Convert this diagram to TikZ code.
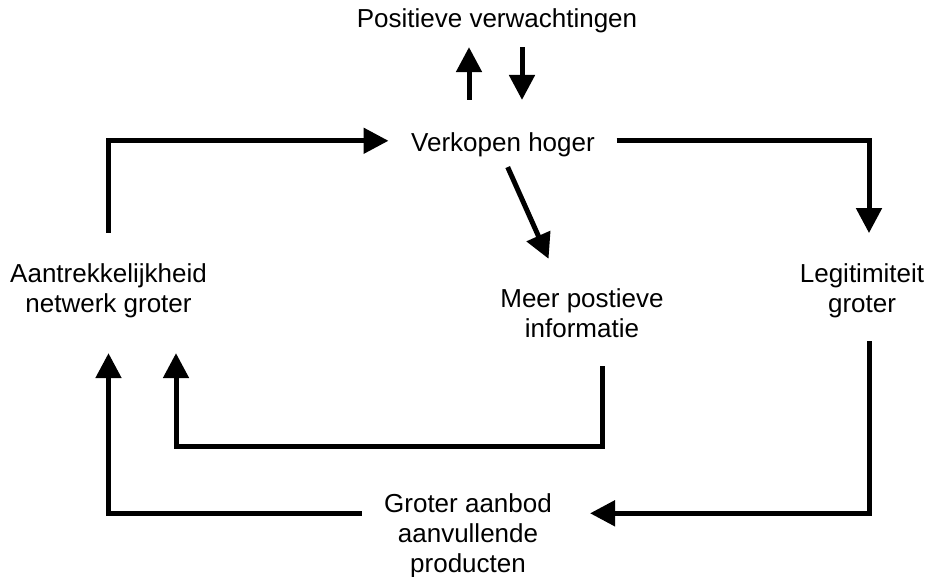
\documentclass[tikz,border=0pt]{standalone}
\usepackage{fontspec}
\setmainfont{Liberation Sans}
\usepackage{tikz}
\usetikzlibrary{arrows.meta, positioning, calc}
\tikzset{
  lbl/.style={inner sep=0pt, align=center, text=black,
    font=\fontsize{26}{30}\selectfont},
  arr/.style={-{Triangle[length=25pt, width=25pt]}, line width=5pt, color=black},
}

\begin{document}
\begin{tikzpicture}[x=1pt, y=-1pt]
  \useasboundingbox (0,0) rectangle (932,576);

  \node[lbl, anchor=base] (pos) at (497,27) {Positieve verwachtingen};
  \node[lbl, anchor=base] (verkopen) at (503,151) {Verkopen hoger};
  \node[lbl] (aantrek) at (108.5,290.3) {Aantrekkelijkheid\\netwerk groter};
  \node[lbl] (meer) at (582,313.7) {Meer postieve\\informatie};
  \node[lbl] (legit) at (862,290.4) {Legitimiteit\\groter};
  \node[lbl] (groter) at (468,535.3) {Groter aanbod\\aanvullende\\producten};

  \draw[arr, shorten <=32pt, shorten >=14.5pt]
    ([xshift=-34pt]verkopen.north) -- ([xshift=-34pt]verkopen.north |- pos.south);
  \draw[arr, shorten <=14.5pt, shorten >=32pt]
    ([xshift=19pt]verkopen.north |- pos.south) -- ([xshift=19pt]verkopen.north);
  \draw[arr, shorten <=30pt, shorten >=22.5pt]
    (aantrek.north) |- ([yshift=3.5pt]verkopen.west);
  \draw[arr, shorten <=21.5pt, shorten >=30pt]
    ([yshift=3.5pt]verkopen.east) -| ([xshift=7pt]legit.north);
  \draw[arr, shorten <=11.5pt, shorten >=33pt]
    (verkopen.south) -- ([xshift=-20pt]meer.north);
  \draw[arr, shorten <=28pt, shorten >=35.5pt]
    ([xshift=20pt]meer.south) -- ++(0,108) -| ([xshift=67.5pt]aantrek.south);
  \draw[arr, shorten <=23.5pt, shorten >=38pt]
    ([xshift=7pt]legit.south) |- ([yshift=22pt]groter.east);
  \draw[arr, shorten <=22pt, shorten >=35.5pt]
    ([yshift=22pt]groter.west) -| (aantrek.south);
\end{tikzpicture}
\end{document}
